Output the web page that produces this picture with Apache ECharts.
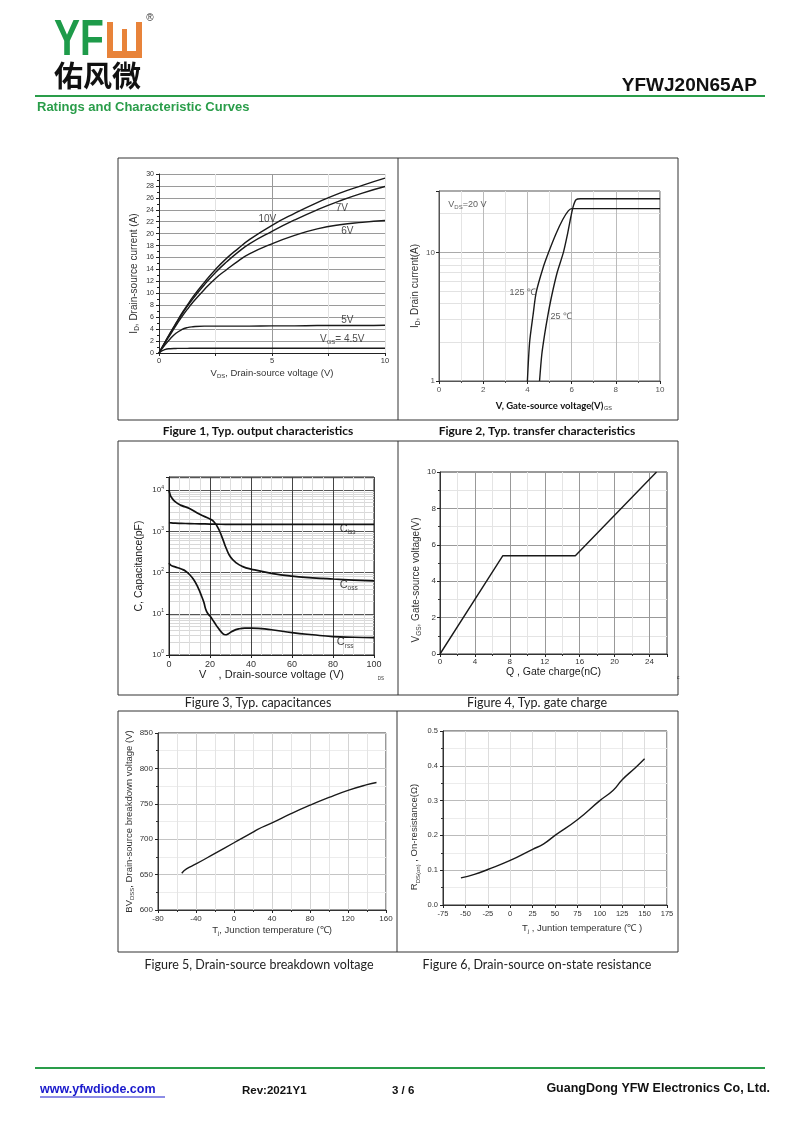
<!DOCTYPE html>
<html><head><meta charset="utf-8">
<script src="https://cdn.jsdelivr.net/npm/echarts@6/dist/echarts.min.js"></script>
<style>html,body{margin:0;padding:0;background:#fff}#c{width:800px;height:1130px}</style>
</head><body><div id="c"></div><script>
// ---------- DATA ----------
// Figure 1: output characteristics
const f1Vds   = [0,0.25,0.5,0.75,1,1.25,1.5,2,2.5,3,3.5,4,5,6,7,8,9,10];
const f1Id10V = [0,1.7,3.4,5.0,6.6,8.0,9.4,11.8,14.0,15.9,17.5,19.0,21.4,23.4,25.2,26.8,28.1,29.3];
const f1Id7V  = [0,1.7,3.3,4.9,6.4,7.8,9.1,11.4,13.5,15.3,16.9,18.3,20.4,22.3,24.0,25.5,26.8,27.9];
const f1Id6V  = [0,1.6,3.1,4.6,6.0,7.3,8.5,10.6,12.5,14.0,15.4,16.6,18.3,19.7,20.8,21.5,21.9,22.2];
const f1Id5V  = [0,1.3,2.4,3.3,3.9,4.25,4.4,4.5,4.5,4.5,4.5,4.5,4.55,4.55,4.6,4.6,4.6,4.65];
const f1Id45V = [0,0.55,0.72,0.76,0.78,0.78,0.8,0.8,0.8,0.8,0.8,0.8,0.8,0.8,0.8,0.8,0.8,0.8];
// Figure 2: transfer characteristics
const f2Vgs125 = [4.0,4.1,4.25,4.4,4.7,4.96,5.3,5.6,5.85,6.0,10];
const f2Id125  = [1,2,3.2,4.9,7.5,10,14,18,21,21.9,21.9];
const f2Vgs25  = [4.55,4.65,4.78,4.92,5.1,5.35,5.63,5.82,5.97,6.08,6.2,6.4,10];
const f2Id25   = [1,1.6,2.3,3.2,4.6,7,10,14,19,23,25.7,26.1,26.1];
// Figure 3: capacitances
const f3VdsCiss = [0,1,3,6,10,15,20,25,30,40,50,60,70,80,90,100];
const f3Ciss    = [1650,1620,1590,1570,1550,1530,1510,1495,1485,1480,1480,1480,1480,1480,1480,1480];
const f3VdsCoss = [0,0.5,1,3,6,10,15,20,22,24,26,28,30,33,36,40,50,60,70,80,90,100];
const f3Coss    = [10000,8000,7000,5300,4300,3600,2600,2000,1700,1200,700,380,240,170,140,122,96,82,75,70,66,63];
const f3VdsCrss = [0,1,3,6,8,10,12,14,16,17,18,19,20,22,24,26,27.5,29,31,34,37,40,50,60,70,80,90,100];
const f3Crss    = [170,150,138,122,110,90,68,45,26,19,12.5,10,8.8,6.3,4.5,3.4,3.1,3.3,3.8,4.3,4.5,4.5,4.1,3.5,3.1,2.8,2.7,2.65];
// Figure 4: gate charge
const f4Qg  = [0,7.2,15.5,24.8];
const f4Vgs = [0,5.4,5.4,10];
// Figure 5: breakdown voltage
const f5Tj = [-55,-50,-40,-20,0,20,25,40,60,80,100,120,140,150];
const f5Bv = [652,658,665,680,695,710,714,723,736,748,759,769,777,780];
// Figure 6: on-resistance
const f6Tj  = [-55,-40,-25,0,25,37,50,75,100,115,125,140,150];
const f6Rds = [0.078,0.088,0.102,0.128,0.16,0.175,0.2,0.245,0.3,0.33,0.36,0.395,0.42];
// log-axis minor gridline values
const f2Minor = [2,3,4,5,6,7,8,9,20];
const f3Minor = [2,3,4,5,6,7,8,9,20,30,40,50,60,70,80,90,200,300,400,500,600,700,800,900,2000,3000,4000,5000,6000,7000,8000,9000,20000];

// ---------- HELPERS ----------
const FONT = 'Liberation Sans';
const zip = (xs, ys) => xs.map((x, i) => [x, ys[i]]);
function richSet(base, sub, color) {
  color = color || '#222';
  return {
    n: {fontFamily: FONT, fontSize: base, color: color, lineHeight: base + 3},
    s: {fontFamily: FONT, fontSize: sub, color: color, lineHeight: sub + 1, verticalAlign: 'bottom'},
    p: {fontFamily: FONT, fontSize: sub, color: color, lineHeight: sub + 1, verticalAlign: 'top'}
  };
}
const isPow10 = v => Math.abs(Math.log10(v) - Math.round(Math.log10(v))) < 1e-6;
function lineSeries(xi, data, opt) {
  return Object.assign({type: 'line', xAxisIndex: xi, yAxisIndex: xi, data: data, showSymbol: false,
    symbol: 'none', smooth: true, silent: true, z: 5,
    lineStyle: {color: '#1a1a1a', width: 1.4, type: 'solid'}}, opt || {});
}
function note(xi, pt, text, rich) {
  return {type: 'scatter', xAxisIndex: xi, yAxisIndex: xi, data: [pt], symbolSize: 1, silent: true, z: 6,
    itemStyle: {color: 'rgba(0,0,0,0)'},
    label: {show: true, position: 'right', distance: 0, formatter: text, rich: rich}};
}
// background series that only carries light minor gridlines for log axes
function minorGrid(xi, anchor, vals, color) {
  return {type: 'line', xAxisIndex: xi, yAxisIndex: xi, data: [anchor], symbol: 'none', silent: true, z: 0,
    lineStyle: {opacity: 0},
    markLine: {silent: true, symbol: ['none', 'none'], animation: false, label: {show: false}, z: 0,
      lineStyle: {color: color, type: 'solid', width: 1}, emphasis: {disabled: true},
      data: vals.map(v => ({yAxis: v}))}};
}
const tick = (fs, color, margin) => ({fontFamily: FONT, fontSize: fs, color: color || '#333', margin: margin || 4});

// ---------- CHART ----------
const chart = echarts.init(document.getElementById('c'), null, {renderer: 'canvas'});

const grids = [
  {left: 159, top: 174, width: 226, height: 179},
  {left: 439, top: 191, width: 221, height: 190, show: true, borderColor: '#555', borderWidth: 1},
  {left: 169, top: 477, width: 205, height: 178, show: true, borderColor: '#222', borderWidth: 1},
  {left: 440, top: 472, width: 227, height: 182, show: true, borderColor: '#333', borderWidth: 1},
  {left: 158, top: 733, width: 228, height: 177, show: true, borderColor: '#333', borderWidth: 1},
  {left: 443, top: 731, width: 224, height: 174, show: true, borderColor: '#333', borderWidth: 1}
];

const axLine = c => ({show: true, onZero: false, lineStyle: {color: c || '#222', width: 1}});
const axTick = (len) => ({show: true, length: len || 3, lineStyle: {color: '#222'}});

const xAxes = [
  {gridIndex: 0, type: 'value', min: 0, max: 10, interval: 2.5,
   axisLine: axLine(), axisTick: axTick(3),
   axisLabel: Object.assign(tick(7.5, '#333', 4), {formatter: v => (v % 5 === 0 ? String(v) : '')}),
   splitLine: {show: true, lineStyle: {color: '#e2e2e2'}},
   name: '{n|V}{s|DS}{n|, Drain-source voltage (V)}', nameLocation: 'middle', nameGap: 14,
   nameTextStyle: {rich: richSet(9.5, 6, '#333')}},
  {gridIndex: 1, type: 'value', min: 0, max: 10, interval: 2,
   axisLine: axLine('#555'), axisTick: axTick(3),
   minorTick: {show: true, splitNumber: 2, length: 2, lineStyle: {color: '#555'}},
   axisLabel: tick(8, '#555', 5),
   splitLine: {show: true, lineStyle: {color: '#bbb'}},
   minorSplitLine: {show: true, lineStyle: {color: '#e4e4e4'}},
   name: 'V, Gate-source voltage(V)', nameLocation: 'middle', nameGap: 20,
   nameTextStyle: {fontFamily: 'Lato', fontWeight: 'bold', fontSize: 9.5, color: '#111'}},
  {gridIndex: 2, type: 'value', min: 0, max: 100, interval: 20,
   axisLine: axLine('#222'), axisTick: axTick(3),
   minorTick: {show: false, splitNumber: 4},
   axisLabel: tick(9, '#333', 5),
   splitLine: {show: true, lineStyle: {color: '#444'}},
   minorSplitLine: {show: true, lineStyle: {color: '#ddd'}},
   name: 'V    , Drain-source voltage (V)', nameLocation: 'middle', nameGap: 14,
   nameTextStyle: {fontFamily: FONT, fontSize: 11, color: '#222'}},
  {gridIndex: 3, type: 'value', min: 0, max: 26, interval: 4,
   axisLine: axLine('#333'), axisTick: axTick(3),
   minorTick: {show: true, splitNumber: 2, length: 2, lineStyle: {color: '#333'}},
   axisLabel: Object.assign(tick(8, '#333', 4), {showMaxLabel: false, formatter: v => (v > 24 ? '' : String(v))}),
   splitLine: {show: true, lineStyle: {color: '#999'}},
   minorSplitLine: {show: true, lineStyle: {color: '#e4e4e4'}},
   name: 'Q , Gate charge(nC)', nameLocation: 'middle', nameGap: 12,
   nameTextStyle: {fontFamily: FONT, fontSize: 10.5, color: '#222'}},
  {gridIndex: 4, type: 'value', min: -80, max: 160, interval: 40,
   axisLine: axLine('#333'), axisTick: axTick(3),
   minorTick: {show: true, splitNumber: 2, length: 2, lineStyle: {color: '#333'}},
   axisLabel: tick(8, '#333', 5),
   splitLine: {show: true, lineStyle: {color: '#d4d4d4'}},
   minorSplitLine: {show: true, lineStyle: {color: '#e4e4e4'}},
   name: '{n|T}{s|j}{n|, Junction temperature (\u2103)}', nameLocation: 'middle', nameGap: 14,
   nameTextStyle: {rich: richSet(9.5, 6, '#333')}},
  {gridIndex: 5, type: 'value', min: -75, max: 175, interval: 25,
   axisLine: axLine('#333'), axisTick: axTick(3),
   axisLabel: tick(7.5, '#333', 5),
   splitLine: {show: true, lineStyle: {color: '#ddd'}},
   name: '{n|T}{s|j}{n| , Juntion temperature (\u2103 )}', nameLocation: 'middle', nameGap: 17,
   nameTextStyle: {rich: richSet(9.5, 6, '#333'), padding: [0, 0, 0, 54]}}
];

const yAxes = [
  {gridIndex: 0, type: 'value', min: 0, max: 30, interval: 2,
   axisLine: axLine(), axisTick: axTick(3),
   minorTick: {show: true, splitNumber: 2, length: 2, lineStyle: {color: '#222'}},
   axisLabel: tick(7, '#333', 5),
   splitLine: {show: true, lineStyle: {color: '#9a9a9a'}},
   name: '{n|I}{s|D}{n|, Drain-source current (A)}', nameLocation: 'middle', nameGap: 18, nameRotate: 90,
   nameTextStyle: {rich: richSet(10, 6.5, '#333'), padding: [0, 20, 0, 0]}},
  {gridIndex: 1, type: 'log', logBase: 10, min: 1, max: 30,
   axisLine: axLine('#555'), axisTick: axTick(3),
   axisLabel: Object.assign(tick(8, '#555', 4), {formatter: v => (isPow10(v) ? String(Math.round(v)) : '')}),
   splitLine: {show: true, lineStyle: {color: '#aaa'}},
   name: '{n|I}{s|D}{n|, Drain current(A)}', nameLocation: 'middle', nameGap: 17, nameRotate: 90,
   nameTextStyle: {rich: richSet(10, 6.5, '#333')}},
  {gridIndex: 2, type: 'log', logBase: 10, min: 1, max: 21000,
   axisLine: axLine('#222'), axisTick: axTick(3),
   axisLabel: Object.assign(tick(8, '#333', 5), {
     formatter: v => (isPow10(v) ? '{n|10}{p|' + Math.round(Math.log10(v)) + '}' : ''),
     rich: richSet(8, 5, '#333')}),
   splitLine: {show: true, lineStyle: {color: '#555'}},
   name: 'C, Capacitance(pF)', nameLocation: 'middle', nameGap: 24, nameRotate: 90,
   nameTextStyle: {fontFamily: FONT, fontSize: 10.5, color: '#222'}},
  {gridIndex: 3, type: 'value', min: 0, max: 10, interval: 2,
   axisLine: axLine('#333'), axisTick: axTick(3),
   minorTick: {show: true, splitNumber: 2, length: 2, lineStyle: {color: '#333'}},
   axisLabel: tick(8, '#333', 4),
   splitLine: {show: true, lineStyle: {color: '#999'}},
   minorSplitLine: {show: true, lineStyle: {color: '#e4e4e4'}},
   name: '{n|V}{s|GS}{n|, Gate-source voltage(V)}', nameLocation: 'middle', nameGap: 17, nameRotate: 90,
   nameTextStyle: {rich: richSet(10, 6.5, '#333'), padding: [0, 34, 0, 0]}},
  {gridIndex: 4, type: 'value', min: 600, max: 850, interval: 50,
   axisLine: axLine('#333'), axisTick: axTick(3),
   minorTick: {show: true, splitNumber: 2, length: 2, lineStyle: {color: '#333'}},
   axisLabel: tick(8, '#333', 5),
   splitLine: {show: true, lineStyle: {color: '#c4c4c4'}},
   minorSplitLine: {show: true, lineStyle: {color: '#ececec'}},
   name: '{n|BV}{s|DSS}{n|, Drain-source breakdown voltage (V)}', nameLocation: 'middle', nameGap: 20, nameRotate: 90,
   nameTextStyle: {rich: richSet(9.5, 6, '#333')}},
  {gridIndex: 5, type: 'value', min: 0, max: 0.5, interval: 0.1,
   axisLine: axLine('#333'), axisTick: axTick(3),
   minorTick: {show: true, splitNumber: 2, length: 2, lineStyle: {color: '#333'}},
   axisLabel: Object.assign(tick(7.5, '#333', 5), {formatter: v => v.toFixed(1)}),
   splitLine: {show: true, lineStyle: {color: '#bbb'}},
   minorSplitLine: {show: true, lineStyle: {color: '#ececec'}},
   name: '{n|R}{s|DS(on)}{n| , On-resistance(\u03a9)}', nameLocation: 'middle', nameGap: 22, nameRotate: 90,
   nameTextStyle: {rich: richSet(9.5, 6, '#333'), padding: [0, 38, 0, 0]}}
];
xAxes.forEach(a => { a.z = 1; });
yAxes.forEach(a => { a.z = 1; });

const r1 = richSet(10, 6, '#222');
const r2 = richSet(9, 6, '#333');
const r3 = richSet(11, 6.5, '#111');

const series = [
  minorGrid(1, [5, 5], f2Minor, '#e2e2e2'),
  minorGrid(2, [50, 100], f3Minor, '#d8d8d8'),

  lineSeries(0, zip(f1Vds, f1Id10V)),
  lineSeries(0, zip(f1Vds, f1Id7V)),
  lineSeries(0, zip(f1Vds, f1Id6V)),
  lineSeries(0, zip(f1Vds, f1Id5V)),
  lineSeries(0, zip(f1Vds, f1Id45V)),
  {type: 'line', xAxisIndex: 0, yAxisIndex: 0, data: [[5, 15]], symbol: 'none', silent: true, z: 0,
   lineStyle: {opacity: 0},
   markLine: {silent: true, symbol: ['none', 'none'], animation: false, label: {show: false},
     lineStyle: {color: '#999', type: 'solid', width: 1}, data: [{xAxis: 5}]}},
  note(0, [4.38, 22.4], '{n|10V}', r1),
  note(0, [7.8, 24.3], '{n|7V}', r1),
  note(0, [8.04, 20.4], '{n|6V}', r1),
  note(0, [8.04, 5.5], '{n|5V}', r1),
  note(0, [7.1, 2.35], '{n|V}{s|GS}{n|= 4.5V}', r1),

  lineSeries(1, zip(f2Vgs125, f2Id125), {smooth: 0.25}),
  lineSeries(1, zip(f2Vgs25, f2Id25), {smooth: 0.25}),
  note(1, [0.4, 23.7], '{n|V}{s|DS}{n|=20 V}', r2),
  note(1, [3.17, 4.9], '{n|125 \u2103}', r2),
  note(1, [5.02, 3.18], '{n|25 \u2103}', r2),

  lineSeries(2, zip(f3VdsCiss, f3Ciss), {lineStyle: {color: '#111', width: 1.7}}),
  lineSeries(2, zip(f3VdsCoss, f3Coss), {lineStyle: {color: '#111', width: 1.7}}),
  lineSeries(2, zip(f3VdsCrss, f3Crss), {lineStyle: {color: '#111', width: 1.7}}),
  note(2, [83, 1180], '{n|C}{s|iss}', r3),
  note(2, [83, 50], '{n|C}{s|oss}', r3),
  note(2, [81.6, 2.04], '{n|C}{s|rss}', r3),

  lineSeries(3, zip(f4Qg, f4Vgs), {smooth: false}),
  lineSeries(4, zip(f5Tj, f5Bv)),
  lineSeries(5, zip(f6Tj, f6Rds))
];

const G = '#2a9d4a';
const txt = (x, y, text, font, fill, align, extra) => Object.assign({type: 'text', x: x, y: y, silent: true,
  style: {text: text, font: font, fill: fill || '#111', textAlign: align || 'left', textVerticalAlign: 'middle'}}, extra || {});
const box = (x, y, w, h) => ({type: 'rect', silent: true, shape: {x: x, y: y, width: w, height: h},
  style: {fill: 'none', stroke: '#333', lineWidth: 1}});
const ln = (x1, y1, x2, y2, c, w) => ({type: 'line', silent: true, shape: {x1: x1, y1: y1, x2: x2, y2: y2},
  style: {stroke: c, lineWidth: w}});

const graphic = [
  // logo
  txt(54, 41, 'YF', 'bold 50px "Liberation Sans"', '#1e9b4a', 'left', {scaleX: 0.78, originX: 0, originY: 0}),
  {type: 'rect', silent: true, shape: {x: 107, y: 22, width: 35, height: 36}, style: {fill: '#e8833a'}},
  {type: 'rect', silent: true, shape: {x: 113, y: 22, width: 23, height: 29}, style: {fill: '#fff'}},
  {type: 'rect', silent: true, shape: {x: 122, y: 29, width: 5, height: 22}, style: {fill: '#e8833a'}},
  txt(150, 18, '\u00ae', '10px "Liberation Sans"', '#333', 'center'),
  txt(54, 76, '\u4f51\u98ce\u5fae', 'bold 29px "Noto Sans CJK SC"', '#111'),
  txt(757, 86, 'YFWJ20N65AP', 'bold 19px "Liberation Sans"', '#111', 'right'),
  ln(35, 96, 765, 96, G, 2),
  txt(37, 107, 'Ratings and Characteristic Curves', 'bold 13px "Liberation Sans"', G),
  // frames
  box(118, 158, 560, 262), ln(398, 158, 398, 420, '#333', 1),
  box(118, 441, 560, 254), ln(398, 441, 398, 695, '#333', 1),
  box(118, 711, 560, 241), ln(397, 711, 397, 952, '#333', 1),
  // captions
  txt(258, 431, 'Figure 1, Typ. output characteristics', 'bold 12px Lato', '#111', 'center'),
  txt(537, 431, 'Figure 2, Typ. transfer characteristics', 'bold 12px Lato', '#111', 'center'),
  txt(258, 703, 'Figure 3, Typ. capacitances', '12.5px Lato', '#222', 'center'),
  txt(537, 703, 'Figure 4, Typ. gate charge', '12.5px Lato', '#222', 'center'),
  txt(259, 965, 'Figure 5, Drain-source breakdown voltage', '12.5px Lato', '#222', 'center'),
  txt(537, 965, 'Figure 6, Drain-source on-state resistance', '12.5px Lato', '#222', 'center'),
  // stray tiny subscripts from original
  txt(604, 408, 'GS', '5.5px "Liberation Sans"', '#333'),
  txt(381, 679, 'DS', '4.5px "Liberation Sans"', '#333', 'center'),
  txt(678, 677, 'c', '5.5px "Liberation Sans"', '#333', 'center'),
  // footer
  ln(35, 1068, 765, 1068, G, 2),
  txt(40, 1090, 'www.yfwdiode.com', 'bold 12.5px "Liberation Sans"', '#1a1acc'),
  ln(40, 1097, 165, 1097, '#1a1acc', 1),
  txt(242, 1091, 'Rev:2021Y1', 'bold 11.5px "Liberation Sans"', '#111'),
  txt(392, 1091, '3 / 6', 'bold 11.5px "Liberation Sans"', '#111'),
  txt(770, 1089, 'GuangDong YFW Electronics Co, Ltd.', 'bold 12.5px "Liberation Sans"', '#111', 'right')
];

chart.setOption({
  animation: false,
  backgroundColor: '#fff',
  grid: grids,
  xAxis: xAxes,
  yAxis: yAxes,
  series: series,
  graphic: graphic
});
</script></body></html>
